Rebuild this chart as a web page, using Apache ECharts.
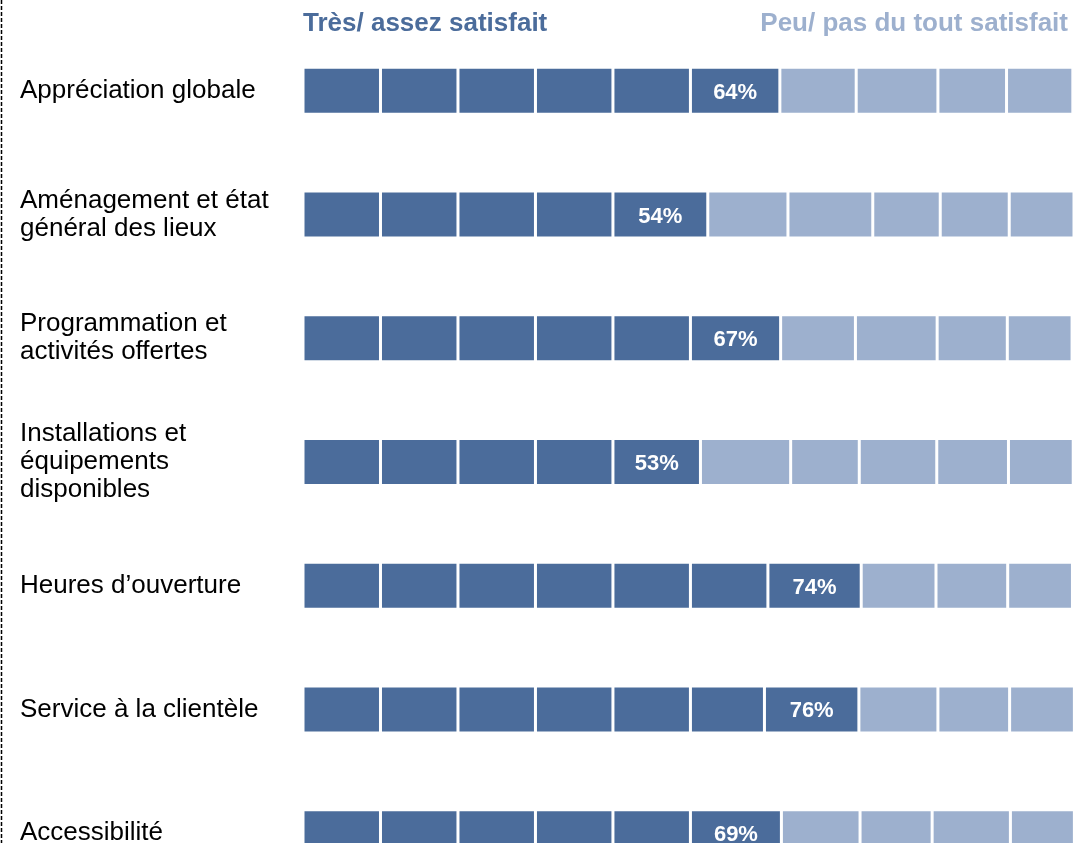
<!DOCTYPE html>
<html>
<head>
<meta charset="utf-8">
<script src="https://cdn.jsdelivr.net/npm/echarts@6/dist/echarts.min.js"></script>
<style>
  html, body { margin: 0; padding: 0; background: #fff; }
  #main { width: 1074px; height: 843px; }
</style>
</head>
<body>
<div id="main"></div>
<script>
var categories = [
  'Appréciation globale',
  'Aménagement et état\ngénéral des lieux',
  'Programmation et\nactivités offertes',
  'Installations et\néquipements\ndisponibles',
  'Heures d’ouverture',
  'Service à la clientèle',
  'Accessibilité'
];
var satisfied = [64, 54, 67, 53, 74, 76, 69];

// largeur des cases (en % de la barre)
var darkSegments = [
  [10.05, 10.05, 10.05, 10.05, 10.05, 11.6],
  [10.05, 10.05, 10.05, 10.05, 12.3],
  [10.05, 10.05, 10.05, 10.05, 10.05, 11.7],
  [10.05, 10.05, 10.05, 10.05, 11.35],
  [10.05, 10.05, 10.05, 10.05, 10.05, 10.05, 12.1],
  [10.05, 10.05, 10.05, 10.05, 10.05, 9.6, 12.25],
  [10.05, 10.05, 10.05, 10.05, 10.05, 11.8]
];
var lightSegments = [
  [9.9, 10.6, 8.9, 8.6],
  [10.4, 11.0, 8.75, 8.95, 8.4],
  [9.7, 10.6, 9.1, 8.4],
  [11.7, 8.9, 10.05, 9.3, 8.4],
  [9.7, 9.3, 8.4],
  [10.25, 9.3, 8.4],
  [10.2, 9.35, 10.15, 8.3]
];

var darkColor = '#4b6c9b';
var lightColor = '#9db0ce';

var chart = echarts.init(document.getElementById('main'));

var maxSeg = 0;
for (var r = 0; r < categories.length; r++) {
  maxSeg = Math.max(maxSeg, darkSegments[r].length + lightSegments[r].length);
}

var series = [];
for (var k = 0; k < maxSeg; k++) {
  var data = [];
  for (var r = 0; r < categories.length; r++) {
    var nd = darkSegments[r].length;
    var segs = darkSegments[r].concat(lightSegments[r]);
    if (k >= segs.length) {
      data.push('-');
      continue;
    }
    var item = {
      value: segs[k],
      itemStyle: { color: k < nd ? darkColor : lightColor }
    };
    if (k === nd - 1) {
      item.label = {
        show: true,
        position: 'inside',
        offset: [0, 2],
        formatter: satisfied[r] + '%',
        color: '#fff',
        fontWeight: 'bold',
        fontSize: 22,
        fontFamily: 'Liberation Sans, Arial'
      };
    }
    data.push(item);
  }
  series.push({
    type: 'bar',
    stack: 'total',
    barWidth: 47,
    silent: true,
    itemStyle: { borderColor: '#fff', borderWidth: 1.5 },
    data: data
  });
}

var option = {
  animation: false,
  // la derniere barre est coupee par le bas de l'image
  grid: { left: 303, right: 0, top: 29, height: 866, outerBoundsMode: 'none' },
  xAxis: {
    type: 'value',
    min: 0,
    max: 100,
    show: false
  },
  yAxis: {
    type: 'category',
    inverse: true,
    data: categories,
    axisLine: { show: false },
    axisTick: { show: false },
    axisLabel: {
      align: 'left',
      margin: 283,
      color: '#000',
      fontSize: 26,
      lineHeight: 28,
      fontFamily: 'Liberation Sans, Arial'
    }
  },
  graphic: [
    {
      type: 'text',
      left: 303,
      top: 11,
      style: {
        text: 'Très/ assez satisfait',
        fill: darkColor,
        font: 'bold 26px "Liberation Sans", Arial'
      }
    },
    {
      type: 'text',
      right: 6,
      top: 11,
      style: {
        text: 'Peu/ pas du tout satisfait',
        fill: lightColor,
        font: 'bold 26px "Liberation Sans", Arial'
      }
    },
    {
      type: 'line',
      shape: { x1: 1.5, y1: 0, x2: 1.5, y2: 843 },
      style: { stroke: '#000', lineWidth: 1.5, lineDash: [4, 2] }
    }
  ],
  series: series
};

chart.setOption(option);
</script>
</body>
</html>
